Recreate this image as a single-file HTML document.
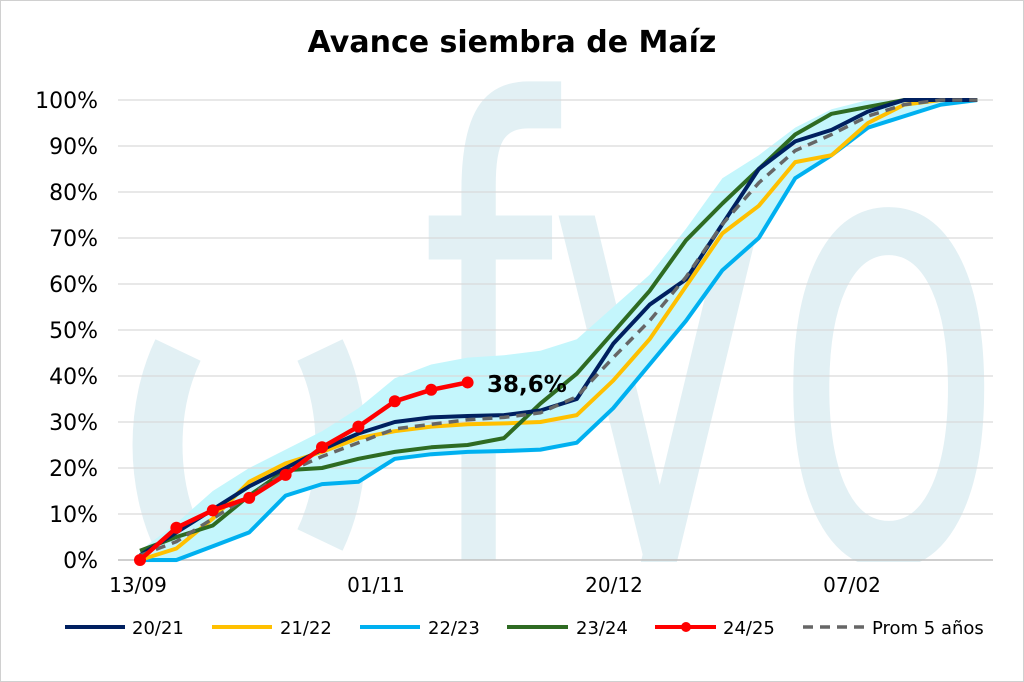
<!DOCTYPE html>
<html><head><meta charset="utf-8"><style>
body{margin:0;background:#fff}
svg{display:block;font-family:"DejaVu Sans","Liberation Sans",sans-serif}
</style></head><body>
<svg width="1024" height="682" viewBox="0 0 1024 682" xmlns="http://www.w3.org/2000/svg">
<defs><clipPath id="cp"><rect x="0" y="60" width="1024" height="502"/></clipPath></defs>
<rect x="0.5" y="0.5" width="1023" height="681" fill="#fff" stroke="#d0d0d0"/>
<g clip-path="url(#cp)">
<g fill="none" stroke="#e2f0f4" stroke-width="50">
<path d="M178,350 A120,170 0 0 0 178,540"/>
<path d="M320,350 A120,170 0 0 1 320,540"/>
</g>
<g transform="translate(0,560) scale(1,1.26) translate(0,-560)">
<text x="420" y="560" font-size="500" font-weight="normal" fill="#e2f0f4" font-family="DejaVu Sans,sans-serif" textLength="585" lengthAdjust="spacingAndGlyphs">fyo</text>
</g>
</g>
<text x="512" y="52" text-anchor="middle" font-size="30" font-weight="bold" fill="#000">Avance siembra de Maíz</text>
<g id="band"></g>
<g stroke="#d9d9d9" stroke-width="1.3">
<line x1="118" x2="993" y1="100" y2="100"/><line x1="118" x2="993" y1="146" y2="146"/>
<line x1="118" x2="993" y1="192" y2="192"/><line x1="118" x2="993" y1="238" y2="238"/>
<line x1="118" x2="993" y1="284" y2="284"/><line x1="118" x2="993" y1="330" y2="330"/>
<line x1="118" x2="993" y1="376" y2="376"/><line x1="118" x2="993" y1="422" y2="422"/>
<line x1="118" x2="993" y1="468" y2="468"/><line x1="118" x2="993" y1="514" y2="514"/>
</g>
<line x1="118" x2="993" y1="560" y2="560" stroke="#bfbfbf" stroke-width="1.5"/>
<g font-size="22" fill="#000" text-anchor="end">
<text x="98" y="108">100%</text><text x="98" y="154">90%</text><text x="98" y="200">80%</text>
<text x="98" y="246">70%</text><text x="98" y="292">60%</text><text x="98" y="338">50%</text>
<text x="98" y="384">40%</text><text x="98" y="430">30%</text><text x="98" y="476">20%</text>
<text x="98" y="522">10%</text><text x="98" y="568">0%</text>
</g>
<g font-size="20" fill="#000" text-anchor="middle">
<text x="138" y="592">13/09</text><text x="376" y="592">01/11</text>
<text x="614" y="592">20/12</text><text x="852" y="592">07/02</text>
</g>
<g id="lines"></g>
<text x="487" y="392" font-size="23" font-weight="bold" fill="#000">38,6%</text>
<g font-size="18" fill="#000">
<line x1="65" x2="125" y1="627" y2="627" stroke="#002060" stroke-width="4"/><text x="132" y="634">20/21</text>
<line x1="212" x2="272" y1="627" y2="627" stroke="#ffc000" stroke-width="4"/><text x="280" y="634">21/22</text>
<line x1="360" x2="420" y1="627" y2="627" stroke="#00b0f0" stroke-width="4"/><text x="428" y="634">22/23</text>
<line x1="507" x2="568" y1="627" y2="627" stroke="#2e6b22" stroke-width="4"/><text x="576" y="634">23/24</text>
<line x1="655" x2="716" y1="627" y2="627" stroke="#ff0000" stroke-width="4"/><circle cx="686" cy="627" r="5" fill="#ff0000"/><text x="723" y="634">24/25</text>
<line x1="803" x2="864" y1="627" y2="627" stroke="#666" stroke-width="3.5" stroke-dasharray="10,7"/><text x="872" y="634">Prom 5 años</text>
</g>
</svg>
<script>
var X=i=>140+36.4*i, Y=v=>560-4.6*v;
var up=[2,8,15,20,24,28,33,39.5,42.5,44,44.5,45.5,48,55,62,72,83,88,94,98,100,100,100,100];
var s={
n:[1,6,11,16,20,24,27.5,30,31,31.3,31.5,32.5,35,47,55.5,61,73,85,91,93.5,97.5,100,100,100],
y:[0,2.5,9,17,21,23.5,26.5,28,29,29.5,29.7,30,31.5,39,48,59.5,71,77,86.5,88,95,99,100,100],
c:[0,0,3,6,14,16.5,17,22,23,23.5,23.7,24,25.5,33,42.5,52,63,70,83,88,94,96.5,99,100],
g:[2,5,7.5,14,19.5,20,22,23.5,24.5,25,26.5,34,40.5,49.5,58.5,69.5,77.5,85,92.5,97,98.5,100,100,100],
a:[1,4,9,14,19,22.5,25.5,28.5,29.5,30.5,31,32,35.5,44,52,61.5,73,82,89,92.5,96.5,99,100,100],
r:[0,7,10.8,13.5,18.5,24.5,29,34.5,37,38.6]};
var lo=s.c.map((v,i)=>Math.min(v,s.y[i],s.g[i])-0.5);
var pts=a=>a.map((v,i)=>X(i).toFixed(1)+","+Y(v).toFixed(1)).join(" ");
var NS="http://www.w3.org/2000/svg";
var band=document.getElementById("band");
var p=document.createElementNS(NS,"polygon");
p.setAttribute("points",pts(up)+" "+lo.map((v,i)=>[X(i),Y(v)]).reverse().map(q=>q[0].toFixed(1)+","+q[1].toFixed(1)).join(" "));
p.setAttribute("fill","#c4f6fc");band.appendChild(p);
var L=document.getElementById("lines");
function line(a,col,w,dash){var e=document.createElementNS(NS,"polyline");e.setAttribute("points",pts(a));e.setAttribute("fill","none");e.setAttribute("stroke",col);e.setAttribute("stroke-width",w);e.setAttribute("stroke-linejoin","round");if(dash)e.setAttribute("stroke-dasharray",dash);L.appendChild(e);}
line(s.c,"#00b0f0",4);line(s.y,"#ffc000",4);line(s.g,"#2e6b22",4);line(s.n,"#002060",4);line(s.a,"#666",3.5,"10,7");line(s.r,"#ff0000",4.5);
s.r.forEach((v,i)=>{var c=document.createElementNS(NS,"circle");c.setAttribute("cx",X(i));c.setAttribute("cy",Y(v));c.setAttribute("r",6);c.setAttribute("fill","#ff0000");L.appendChild(c);});
</script>
</body></html>
